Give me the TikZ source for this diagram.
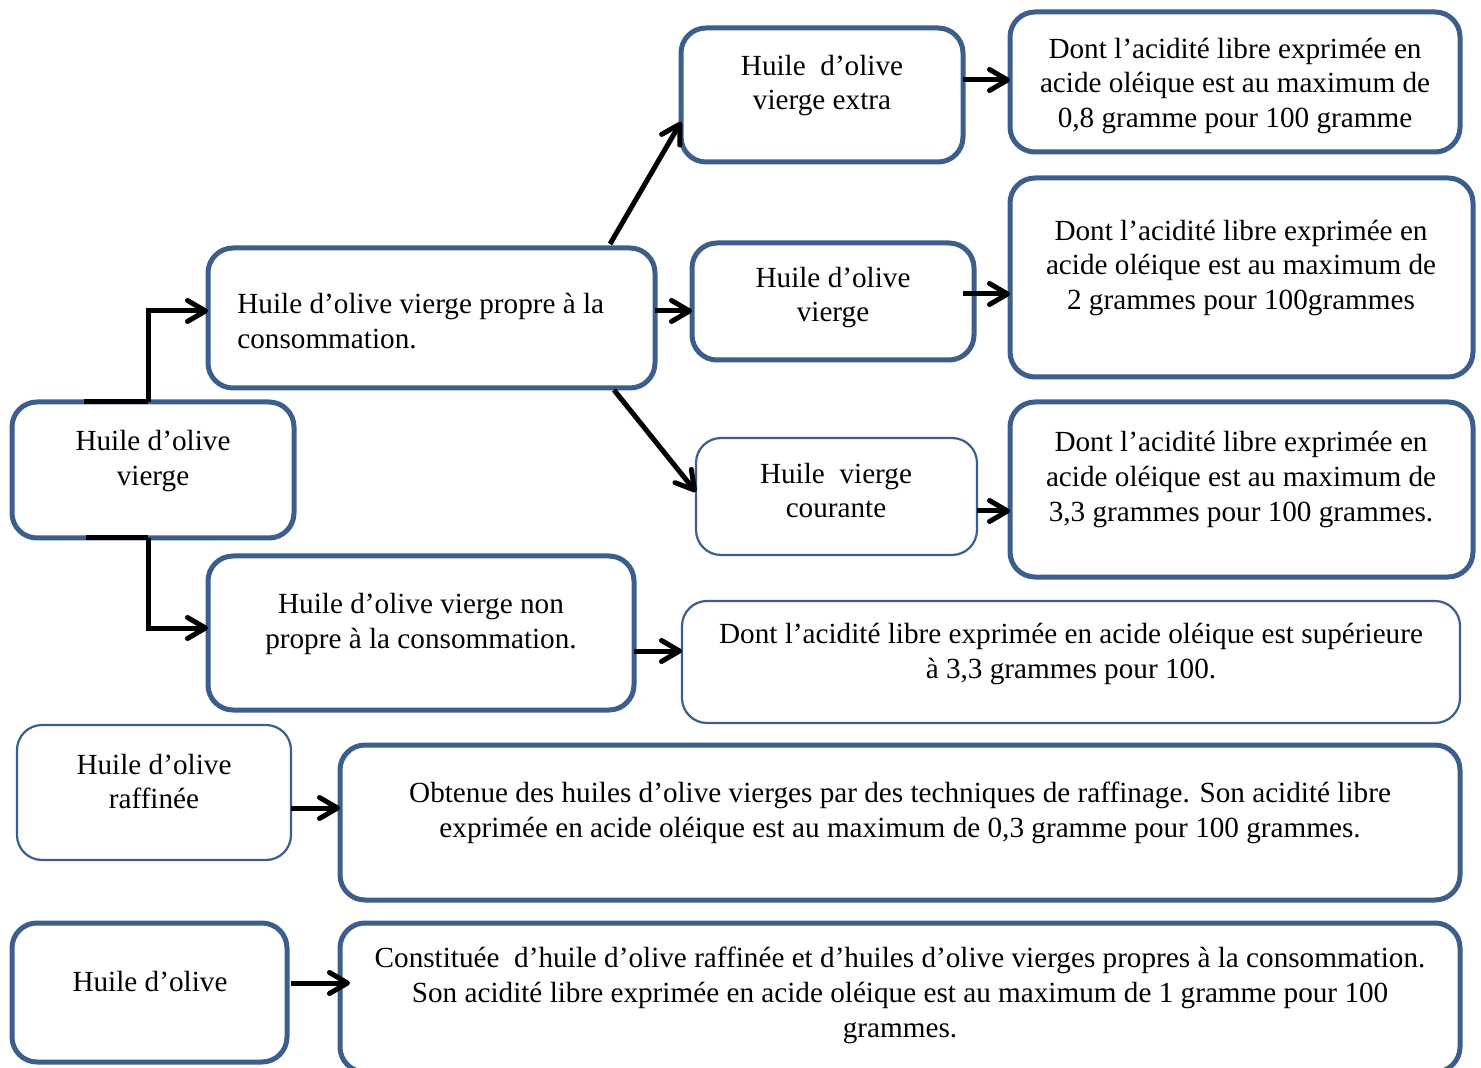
\documentclass[tikz,border=0pt]{standalone}
\usepackage{fontspec}
\setmainfont{Liberation Serif}
\usetikzlibrary{arrows.meta,calc}
\definecolor{bdr}{RGB}{59,94,140}
\tikzset{
  bxthick/.style={draw=bdr,line width=2.5pt,rounded corners=12.5pt,inner sep=0pt,outer sep=0pt,fill=white},
  bxthin/.style={draw=bdr,line width=1.1pt,rounded corners=12.5pt,inner sep=0pt,outer sep=0pt,fill=white},
  txt/.style={inner sep=0pt,align=center,font=\fontsize{14.6}{17.4}\selectfont},
  txtl/.style={inner sep=0pt,align=left,font=\fontsize{14.6}{17.4}\selectfont},
  conn/.style={draw=black,line width=2.5pt,-{Straight Barb[length=9pt,width=10.5pt,round]}},
  seg/.style={draw=black,line width=2.5pt}
}
\begin{document}
\begin{tikzpicture}[x=0.5pt,y=-0.5pt]
\useasboundingbox (0,0) rectangle (1481,1068);
% boxes
\node[bxthick,minimum width=141pt,minimum height=68pt] (A) at (153,470) {};
\node[bxthick,minimum width=223.5pt,minimum height=70pt] (B) at (431.5,318) {};
\node[bxthick,minimum width=213pt,minimum height=77pt] (C) at (421,633) {};
\node[bxthick,minimum width=141pt,minimum height=67pt] (D) at (822,95) {};
\node[bxthick,minimum width=141pt,minimum height=58.5pt] (E) at (833,301.5) {};
\node[bxthin,minimum width=140.5pt,minimum height=58.5pt] (F) at (836.5,496.5) {};
\node[bxthick,minimum width=225pt,minimum height=70pt] (G) at (1235,82) {};
\node[bxthick,minimum width=231.5pt,minimum height=99.5pt] (H) at (1241.5,277.5) {};
\node[bxthick,minimum width=231.5pt,minimum height=87.5pt] (I) at (1241.5,489.5) {};
\node[bxthin,minimum width=389pt,minimum height=61pt] (J) at (1071,662) {};
\node[bxthin,minimum width=137pt,minimum height=67.5pt] (K) at (154,792.5) {};
\node[bxthick,minimum width=560pt,minimum height=77.5pt] (L) at (900,822.5) {};
\node[bxthick,minimum width=137.5pt,minimum height=69.5pt] (M) at (149.5,992.5) {};
\node[bxthick,minimum width=560pt,minimum height=74.5pt] (N) at (900,997.5) {};
% texts
\node[txt] (tA) at (153,461) {Huile d’olive\\vierge};
\node[txtl,anchor=west] (tB) at (237,321) {Huile d’olive vierge propre à la\\consommation.};
\node[txt] (tC) at (421,624) {Huile d’olive vierge non\\propre à la consommation.};
\node[txt] (tD) at (822,85.5) {Huile~ d’olive\\vierge extra};
\node[txt] (tE) at (833,297.5) {Huile d’olive\\vierge};
\node[txt] (tF) at (836,490.5) {Huile~ vierge\\courante};
\node[txt] (tG) at (1235,86) {Dont l’acidité libre exprimée en\\acide oléique est au maximum de\\0,8 gramme pour 100 gramme};
\node[txt] (tH) at (1241,268) {Dont l’acidité libre exprimée en\\acide oléique est au maximum de\\2 grammes pour 100grammes};
\node[txt] (tI) at (1241,479.5) {Dont l’acidité libre exprimée en\\acide oléique est au maximum de\\3,3 grammes pour 100 grammes.};
\node[txt] (tJ) at (1071,654) {Dont l’acidité libre exprimée en acide oléique est supérieure\\à 3,3 grammes pour 100.};
\node[txt] (tK) at (154,781.5) {Huile d’olive\\raffinée};
\node[txt] (tL) at (900,812.5) {Obtenue des huiles d’olive vierges par des techniques de raffinage. Son acidité libre\\exprimée en acide oléique est au maximum de 0,3 gramme pour 100 grammes.};
\node[txt] (tM) at (150,982) {Huile d’olive};
\node[txt] (tN) at (900,995.5) {Constituée~ d’huile d’olive raffinée et d’huiles d’olive vierges propres à la consommation.\\Son acidité libre exprimée en acide oléique est au maximum de 1 gramme pour 100\\grammes.};
% connectors
\coordinate (a1) at (84,402);
\coordinate (a2) at (86,538);
\draw[seg] (a1) -- (148,402);
\draw[conn] (148,402) |- ([yshift=3.5pt]B.west);
\draw[seg] (a2) -- (148,538);
\draw[conn] (148,538) |- ([yshift=2.5pt]C.west);
\coordinate (bd) at (610,244);
\draw[conn] (bd) -- ([yshift=-13.5pt]D.west);
\draw[conn] ([yshift=3.5pt]B.east) -- ([yshift=3.5pt]B.east -| E.west);
\coordinate (bf) at (614,390);
\draw[conn] (bf) -- ([yshift=2.25pt]F.west);
\draw[conn] ([yshift=-9pt]C.east) -- ([yshift=-9pt]C.east -| J.west);
\draw[conn] ([yshift=7.5pt]D.east) -- ([yshift=7.5pt]D.east -| G.west);
\draw[conn] ([xshift=-5.5pt,yshift=3.75pt]E.east) -- ([yshift=3.75pt]E.east -| H.west);
\draw[conn] ([yshift=-7.25pt]F.east) -- ([yshift=-7.25pt]F.east -| I.west);
\draw[conn] ([yshift=-7.75pt]K.east) -- ([yshift=-7.75pt]K.east -| L.west);
\draw[conn] ([xshift=2pt,yshift=4.75pt]M.east) -- ([xshift=5pt,yshift=4.75pt]M.east -| N.west);
\end{tikzpicture}
\end{document}
